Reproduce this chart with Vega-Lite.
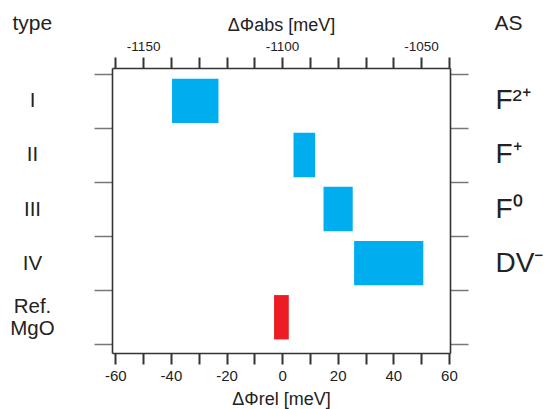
{
  "$schema": "https://vega.github.io/schema/vega-lite/v6.json",
  "width": 338,
  "height": 285,
  "autosize": {"type": "none"},
  "padding": {"left": 112, "top": 68, "right": 94, "bottom": 56},
  "background": "white",
  "config": {
    "view": {"stroke": null},
    "font": "Liberation Sans",
    "axis": {
      "domainColor": "#333333",
      "domainWidth": 1.6,
      "labelColor": "#222222",
      "titleColor": "#222222",
      "titleFontWeight": "normal",
      "labelFont": "Liberation Sans",
      "titleFont": "Liberation Sans",
      "grid": false
    }
  },
  "data": {
    "values": [
      {"type": "I", "as": "F²⁺", "lo": -39.6, "hi": -22.9, "group": "defect"},
      {"type": "II", "as": "F⁺", "lo": 4.1, "hi": 11.9, "group": "defect"},
      {"type": "III", "as": "F⁰", "lo": 14.9, "hi": 25.4, "group": "defect"},
      {"type": "IV", "as": "DV⁻", "lo": 25.9, "hi": 50.8, "group": "defect"},
      {"type": "Ref. MgO", "as": "", "lo": -2.9, "hi": 2.4, "group": "reference"}
    ]
  },
  "layer": [
    {
      "mark": {"type": "bar", "height": {"band": 0.82}},
      "encoding": {
        "x": {
          "field": "lo", "type": "quantitative",
          "scale": {"domain": [-61.2, 60.4], "nice": false, "zero": false},
          "axis": {
            "orient": "bottom",
            "values": [-60, -50, -40, -30, -20, -10, 0, 10, 20, 30, 40, 50, 60],
            "labelExpr": "datum.value % 20 == 0 ? '' + datum.value : ''",
            "labelFlush": false,
            "labelOverlap": false,
            "tickSize": 11,
            "tickWidth": 2,
            "tickColor": "#333333",
            "labelFontSize": 15,
            "labelPadding": 4,
            "title": "ΔΦrel [meV]",
            "titleFontSize": 18,
            "titleBaseline": "alphabetic",
            "titleY": 51
          }
        },
        "x2": {"field": "hi"},
        "y": {
          "field": "type", "type": "nominal",
          "scale": {"domain": ["I", "II", "III", "IV", "Ref. MgO"], "paddingInner": 0, "paddingOuter": 0.134, "align": 0.4},
          "axis": {
            "orient": "left",
            "title": "type",
            "titleAngle": 0,
            "titleX": -100,
            "titleY": -39,
            "titleAlign": "left",
            "titleBaseline": "alphabetic",
            "titleFontSize": 21,
            "tickBand": "extent",
            "tickSize": 18,
            "tickColor": "#777777",
            "tickWidth": 1.5,
            "labelAlign": "center",
            "labelBaseline": "middle",
            "labelPadding": 62,
            "labelFontSize": 20.5,
            "labelLineHeight": 22,
            "labelOffset": {"condition": {"test": "datum.label == 'Ref. MgO'", "value": -11}, "value": 0},
            "labelExpr": "split(datum.label, ' ')"
          }
        },
        "color": {
          "field": "group", "type": "nominal",
          "scale": {"domain": ["defect", "reference"], "range": ["#00AEEF", "#ED1C24"]},
          "legend": null
        }
      }
    },
    {
      "mark": {"type": "bar", "height": {"band": 0.82}, "opacity": 0},
      "encoding": {
        "x": {
          "field": "lo", "type": "quantitative",
          "axis": {
            "orient": "top",
            "values": [-60, -50, -40, -30, -20, -10, 0, 10, 20, 30, 40, 50, 60],
            "labelExpr": "datum.value % 50 == 0 ? '' + (datum.value - 1100) : ''",
            "labelFlush": false,
            "labelOverlap": false,
            "tickSize": 11,
            "tickWidth": 2,
            "tickColor": "#333333",
            "labelFontSize": 13.5,
            "labelPadding": 4,
            "title": "ΔΦabs [meV]",
            "titleFontSize": 18,
            "titleBaseline": "alphabetic",
            "titleY": -38
          }
        },
        "x2": {"field": "hi"},
        "y": {
          "field": "as", "type": "nominal",
          "scale": {"domain": ["F²⁺", "F⁺", "F⁰", "DV⁻", ""], "paddingInner": 0, "paddingOuter": 0.134, "align": 0.4},
          "axis": {
            "orient": "right",
            "title": "AS",
            "titleAngle": 0,
            "titleX": 44,
            "titleY": -39,
            "titleAlign": "left",
            "titleBaseline": "alphabetic",
            "titleFontSize": 21,
            "tickBand": "extent",
            "tickSize": 18,
            "tickColor": "#777777",
            "tickWidth": 1.5,
            "labelAlign": "left",
            "labelBaseline": "middle",
            "labelPadding": 27,
            "labelFontSize": 28
          }
        }
      }
    }
  ],
  "resolve": {
    "scale": {"x": "shared", "y": "independent"},
    "axis": {"x": "independent", "y": "independent"}
  }
}
